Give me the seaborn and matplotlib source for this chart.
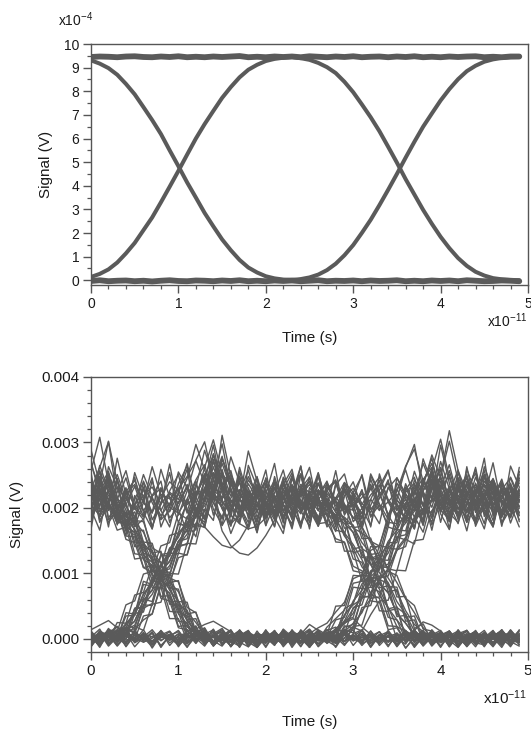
import matplotlib
matplotlib.use("Agg")
import matplotlib.pyplot as plt
import pandas as pd
import seaborn as sns
from matplotlib.ticker import MultipleLocator, FormatStrFormatter

# ---------------- data ----------------
# sample times, in units of 1e-11 s
TIME = [round(i * 0.1, 1) for i in range(50)]

# Top eye diagram, values in units of 1e-4 V
TOP_FALL_RISE = [9.31, 9.17, 8.98, 8.70, 8.31, 7.87, 7.33, 6.78, 6.19, 5.50,
                 4.83, 4.14, 3.50, 2.85, 2.28, 1.73, 1.27, 0.86, 0.54, 0.33,
                 0.17, 0.08, 0.03, 0.01, 0.05, 0.12, 0.24, 0.43, 0.70, 1.06,
                 1.49, 2.01, 2.56, 3.18, 3.83, 4.50, 5.19, 5.86, 6.50, 7.06,
                 7.61, 8.09, 8.51, 8.85, 9.08, 9.25, 9.35, 9.41, 9.44, 9.45]
TOP_RISE_FALL = [0.14, 0.27, 0.46, 0.75, 1.14, 1.58, 2.12, 2.66, 3.30, 3.96,
                 4.63, 5.32, 6.00, 6.61, 7.17, 7.72, 8.18, 8.59, 8.91, 9.12,
                 9.28, 9.37, 9.42, 9.45, 9.40, 9.33, 9.20, 9.02, 8.77, 8.40,
                 7.96, 7.44, 6.90, 6.31, 5.65, 4.98, 4.28, 3.63, 2.98, 2.39,
                 1.84, 1.36, 0.94, 0.61, 0.36, 0.20, 0.09, 0.04, 0.01, 0.00]
TOP_HIGH = [9.45, 9.47, 9.46, 9.44, 9.47, 9.48, 9.45, 9.44, 9.47, 9.45,
            9.48, 9.44, 9.46, 9.44, 9.47, 9.45, 9.47, 9.49, 9.44, 9.46,
            9.44, 9.47, 9.45, 9.47, 9.44, 9.48, 9.46, 9.44, 9.47, 9.45,
            9.48, 9.44, 9.46, 9.47, 9.44, 9.47, 9.45, 9.48, 9.44, 9.46,
            9.44, 9.47, 9.45, 9.47, 9.48, 9.44, 9.46, 9.44, 9.47, 9.47]
TOP_LOW = [-0.03, 0.00, -0.04, -0.02, -0.01, -0.04, -0.02, -0.05, -0.02, 0.00,
           -0.03, -0.04, -0.01, -0.02, -0.04, -0.01, -0.03, 0.00, -0.04, -0.02,
           -0.04, -0.01, -0.03, -0.01, -0.04, -0.02, 0.00, -0.04, -0.02, -0.03,
           -0.01, -0.04, -0.01, -0.03, -0.02, 0.00, -0.04, -0.02, -0.04, -0.01,
           -0.03, -0.01, -0.04, 0.00, -0.02, -0.04, -0.03, -0.01, -0.02, -0.04]

# Bottom eye diagram, noisy traces, values in units of 1e-5 V
TR_A1 = [228,262,301,240,205,233,196,214,188,207, 221,195,236,210,252,231,203,190,218,226,
         204,187,215,232,198,209,224,201,185,219, 230,207,193,221,238,212,199,226,245,216,
         203,229,211,194,222,236,208,197,225,213]
TR_A2 = [205,188,227,213,246,199,182,218,230,201, 192,214,243,266,218,201,176,189,207,223,
         238,212,196,204,227,191,213,229,240,206, 184,199,220,235,211,190,208,224,203,232,
         247,218,201,186,213,228,206,219,194,231]
TR_A3 = [192,214,203,187,221,236,208,195,216,240, 227,205,219,248,281,236,212,198,224,209,
         186,201,228,214,197,222,238,205,213,227, 202,216,231,198,209,226,264,290,241,214,
         206,193,218,233,207,221,245,212,199,216]
TR_B1 = [211,236,219,197,225,242,208,193,221,214, 230,248,272,237,215,204,226,199,213,235,
         217,196,224,208,231,205,219,241,198,183, 162,128,116,84,71,38,24,6,3,-5,
         4,-3,7,1,-6,3,8,-2,5,-4]
TR_B2 = [238,204,226,251,213,198,219,232,206,224, 213,245,297,258,221,209,194,228,215,201,
         233,218,195,211,236,223,204,190,216,201, 186,171,147,118,93,72,43,22,11,4,
         -3,6,-5,2,8,-4,3,-7,5,1]
TR_B3 = [201,219,240,213,187,205,228,214,196,222, 207,231,216,194,253,235,208,219,226,203,
         190,214,235,209,197,221,213,189,181,162, 144,121,93,76,47,29,12,5,-2,5,
         -6,2,9,-3,4,-8,1,6,-4,3]
TR_C1 = [224,213,205,186,171,162,128,117,84,69, 38,23,5,3,-4,5,6,-2,4,-7,
         2,8,-3,5,-6,1,7,4,12,25, 46,63,95,108,139,152,186,197,233,281,
         246,215,198,224,207,236,213,192,219,227]
TR_C2 = [266,231,204,186,172,163,131,104,93,62, 45,18,11,-3,4,-6,2,7,-4,3,
         -2,5,-5,8,1,-3,6,-1,5,11, 24,40,71,92,107,138,155,184,199,212,
         248,302,241,226,205,218,233,209,196,221]
TR_C3 = [203,215,236,192,186,178,146,131,99,85, 57,38,12,8,-3,4,5,-6,2,7,
         -4,3,9,-2,4,-7,1,6,15,27, 58,74,103,119,149,166,194,212,241,268,
         228,203,219,195,232,214,201,227,210,188]
TR_D1 = [241,198,207,189,181,168,136,121,92,76, 47,29,8,5,-3,2,6,-1,4,-6,
         3,-4,7,2,-5,4,-2,6,-7,1, 5,-3,8,2,-4,6,-1,3,-6,4,
         7,-2,1,-5,4,3,-7,5,2,-3]
TR_D2 = [219,248,204,193,191,166,148,118,103,74, 58,27,14,3,-4,7,-2,5,-6,1,
         8,-3,4,-5,2,6,-1,-4,3,7, -2,5,-6,1,4,-3,9,2,-5,3,
         -1,6,-4,2,5,-7,1,4,-2,6]
TR_D3 = [196,239,214,205,189,179,163,132,117,87, 72,41,25,6,4,-2,-5,2,7,-3,
         5,-1,-6,3,8,-2,4,-4,1,6, -3,2,5,-6,4,-1,7,-3,2,5,
         -4,3,-2,6,1,-5,4,-1,3,-6]
TR_E1 = [4,6,2,12,17,45,62,93,108,138, 155,184,213,262,304,251,238,214,197,226,
         209,188,215,232,204,197,221,236,210,193, 218,205,229,247,213,196,220,208,234,217,
         199,225,211,238,204,219,192,228,214,201]
TR_E2 = [-5,3,8,11,22,36,68,84,113,127, 159,175,196,231,254,212,189,176,168,172,
         185,203,219,196,227,241,208,195,213,230, 204,222,198,215,239,211,197,226,205,232,
         218,194,209,236,221,203,215,240,207,199]
TR_E3 = [2,5,-1,6,14,21,52,68,97,112, 143,160,189,226,283,236,246,219,207,232,
         198,214,236,209,191,218,227,203,215,239, 224,201,213,196,230,246,217,204,222,209,
         235,213,190,207,228,216,244,211,198,223]
TR_F1 = [-3,1,7,4,24,38,69,86,115,131, 162,177,205,241,296,228,251,222,209,196,
         214,232,205,190,219,236,211,203,189,176, 163,129,114,85,70,39,24,5,6,-2,
         4,-5,3,8,-3,1,6,-4,2,5]
TR_F2 = [6,-2,3,9,14,27,58,74,104,119, 149,166,192,227,208,186,215,238,221,197,
         205,229,214,188,223,240,207,219,193,186, 172,147,131,101,86,57,38,12,3,-4,
         5,-1,7,-3,2,6,-5,4,-2,3]
TR_F3 = [1,4,-2,8,16,27,59,75,103,118, 149,167,191,203,226,217,212,197,243,221,
         208,194,219,235,206,213,196,189,186,157, 139,110,94,66,48,19,11,-2,4,-6,
         3,7,-3,1,-5,6,2,-4,5,-1]
TR_G1 = [5,-2,7,3,-4,6,1,-3,8,2, -5,4,-1,6,-3,2,7,-4,3,-6,
         5,1,-2,8,-5,3,6,4,11,23, 39,69,86,115,131,161,177,195,226,258,
         305,246,213,197,221,236,204,219,231,208]
TR_G2 = [-3,4,-6,2,9,-1,5,-4,3,7, -2,6,1,-5,4,-3,8,2,-6,3,
         -1,5,-4,7,2,-3,4,6,-2,9, 16,43,61,90,106,135,152,181,194,213,
         249,318,257,224,209,192,217,238,211,226]
TR_G3 = [3,8,-2,5,-5,2,6,-3,4,-1, 7,-4,3,1,-6,5,-2,8,3,-4,
         6,-1,-5,4,2,7,-3,9,12,36, 55,84,99,127,144,176,186,199,237,276,
         219,204,228,213,196,224,241,209,218,202]
TR_H1 = [2,-5,6,-1,4,-4,8,3,-2,5, -6,1,7,-3,4,2,-5,6,-1,3,
         8,-4,2,5,-6,3,-2,7,1,-4, 5,2,-3,6,-5,4,9,-2,3,-6,
         1,5,-4,7,2,-3,6,-1,4,-5]
TR_H2 = [-4,6,2,-3,7,1,-5,4,9,-2, 3,-6,5,1,-4,8,2,-3,6,-1,
         -5,4,7,-2,3,-6,5,1,-4,8, 2,-3,6,-1,5,-4,3,8,-2,6,
         -5,2,4,-3,7,1,-6,5,3,-2]
TR_H3 = [7,1,-4,5,-2,3,6,-5,2,4, -1,7,-3,5,2,-6,4,1,-3,9,
         3,-2,6,-5,1,4,-3,7,2,-4, 6,-1,3,-6,5,2,-3,4,7,-1,
         3,-5,6,2,-4,5,1,-3,8,-2]
TR_N1 = [245,212,178,196,152,147,109,101,62,58, 17,14,-6,9,-11,4,12,-8,3,-13,
         7,-4,10,-9,2,14,-2,18,31,44, 85,88,129,131,178,176,232,199,181,254,
         223,168,241,192,219,276,187,230,204,171]
TR_N2 = [-9,11,-2,25,24,67,71,112,110,158, 162,213,184,247,229,173,198,262,215,181,
         236,207,169,224,251,192,218,177,238,201, 205,161,152,127,108,86,61,40,17,2,
         9,-12,6,-3,13,-7,4,-10,8,1]
TR_N3 = [178,231,256,203,164,219,187,242,196,171, 225,268,209,183,232,276,241,198,167,214,
         243,189,206,229,172,215,254,201,188,226, 179,194,149,142,103,97,62,51,15,12,
         -4,7,-11,3,10,-6,12,-2,-9,5]
TR_N4 = [-8,4,12,-5,9,-12,3,14,-3,7, -10,2,11,-7,5,-1,13,-9,6,-4,
         10,-6,3,12,-11,8,17,24,41,56, 92,98,135,143,182,221,193,168,227,249,
         205,183,236,214,262,197,175,228,246,210]
TR_N5 = [212,257,185,203,166,159,121,113,79,70, 27,25,-4,8,-10,5,13,-6,2,-12,
         9,-3,14,-8,4,-11,6,1,-7,12, -2,8,-13,5,11,-5,3,-9,7,-1,
         10,-6,4,13,-8,2,-12,6,9,-4]
TR_N6 = [10,-6,14,11,52,58,99,103,142,147, 192,183,231,288,246,199,172,224,258,207,
         183,239,196,221,264,188,209,173,235,252, 201,227,186,215,243,178,206,231,193,259,
         220,184,211,247,199,168,226,213,238,192]
TR_N7 = [198,166,233,209,178,186,139,136,96,94, 51,44,8,16,-9,3,11,-5,-12,7,
         2,-8,13,-3,6,-10,9,4,-6,14, 9,48,51,93,96,136,141,187,163,214,
         271,229,186,204,247,215,181,236,198,223]
TR_N8 = [3,-11,8,-4,13,14,29,38,81,86, 124,129,173,171,226,249,203,178,265,232,
         186,211,244,197,175,208,187,191,148,147, 104,101,58,56,14,17,-6,5,-10,11,
         -3,8,-12,4,10,-7,2,13,-5,-1]
TR_N9 = [167,243,198,276,219,185,232,171,208,254, 189,226,273,301,242,208,161,194,237,215,
         258,183,205,168,229,247,196,214,181,238, 203,172,249,221,190,213,262,297,226,184,
         241,205,176,229,253,198,217,185,264,232]
TR_N10 = [233,186,212,245,171,203,228,192,259,216, 178,207,241,185,224,268,230,195,212,173,
          204,237,219,182,251,206,174,229,243,197, 218,185,236,204,171,246,222,199,275,238,
          193,224,258,201,176,213,239,208,187,251]
TR_N11 = [11,-8,3,14,-12,6,-2,9,-10,4, 13,-5,1,-11,8,16,-3,7,-9,12,
          -6,2,10,-13,5,-1,12,-7,3,-10, 8,14,-4,6,-12,9,-2,11,-8,4,
          -11,7,1,13,-6,-9,5,12,-3,8]
TR_N12 = [-7,12,5,-10,9,-3,14,-8,2,11, -12,6,-1,10,-6,4,-11,13,1,-4,
          9,-9,15,3,-7,11,-2,6,-13,7, 2,-5,12,-10,4,8,-14,3,10,-6,
          5,-2,13,-8,6,-12,9,1,-5,11]
TR_N13 = [188,229,171,244,206,171,183,131,134,86, 89,38,41,-2,15,-8,6,-12,10,3,
          -5,12,-9,7,1,-13,8,4,-6,11, -3,13,-7,2,9,-11,5,-1,12,-8,
          6,-4,10,-10,3,8,-6,14,-2,5]
TR_N14 = [6,-9,12,-4,18,9,47,54,97,98, 140,146,190,178,218,165,142,131,128,139,
          158,181,207,236,194,221,248,205,177,229, 213,191,244,206,183,227,258,214,189,232,
          205,179,246,221,198,263,227,192,214,238]
TR_N15 = [257,308,238,199,225,184,213,246,171,203, 229,192,217,252,208,183,241,224,196,169,
          212,238,185,221,203,247,204,198,166,163, 122,117,79,72,33,29,-1,10,-8,6,
          13,-4,2,-11,8,5,-9,12,-2,-6]
TR_N16 = [4,-10,8,2,-6,13,-3,9,-12,5, 11,-7,3,14,-9,6,-1,10,-5,-13,
          7,2,-8,12,4,-11,9,-3,6,8, 19,21,62,64,107,104,152,145,198,193,
          231,266,214,178,203,241,222,187,209,256]
TR_N17 = [289,236,302,214,203,181,179,139,131,93, 87,48,40,7,14,-7,2,12,-10,6,
          -4,9,-12,3,11,-6,1,13,18,8, 48,52,94,92,139,137,189,168,245,213,
          296,238,187,224,206,251,192,218,233,179]
TR_N18 = [-12,5,9,19,3,47,49,91,93,137, 139,186,172,231,219,311,248,197,224,186,
          215,243,206,171,229,198,237,210,176,184, 137,141,91,96,46,49,3,14,-8,6,
          -3,11,-10,4,12,-7,2,9,-4,-11]
TR_N19 = [7,-5,16,1,40,38,88,83,129,131, 178,170,226,213,274,229,186,247,203,162,
          221,268,194,176,233,209,251,187,164,218, 240,199,173,227,256,204,181,215,196,242,
          178,230,209,165,224,257,202,189,236,211]
TR_N20 = [236,194,207,177,179,130,128,89,86,42, 41,2,10,-9,6,14,-4,-11,8,3,
          -7,12,-2,5,-12,9,1,-6,13,-3, 7,-10,4,11,-5,2,-8,14,-1,6,
          -13,8,3,-6,10,-2,5,-9,12,-4]
TR_N21 = [182,214,247,196,231,172,208,263,219,185, 201,236,193,226,281,239,177,214,198,246,
          187,223,258,204,169,231,212,196,211,179, 174,138,129,91,84,48,38,2,13,-10,
          6,12,-5,3,-12,9,-1,7,-8,14]
TR_N22 = [-5,9,-11,3,14,-2,7,-9,12,-6, 4,-13,10,1,-4,8,-10,5,13,-7,
          2,-3,11,-8,6,15,-1,14,2,37, 52,61,104,105,147,147,196,178,243,262,
          211,179,224,247,193,216,269,202,185,228]
TR_N23 = [221,187,246,203,172,181,131,126,88,81, 42,35,3,12,-7,9,-12,4,11,-3,
          6,-9,13,-1,8,-6,2,14,5,46, 54,97,96,143,139,192,177,236,204,189,
          227,251,198,215,176,232,243,207,185,219]
TR_N24 = [9,-4,12,-2,22,16,61,57,103,107, 149,153,201,182,243,279,226,203,178,234,
          211,189,247,223,196,172,228,214,183,204, 169,162,113,119,72,75,27,29,-3,8,
          -11,5,12,-6,2,9,-10,4,-1,13]
TR_N25 = [211,238,196,224,257,203,186,219,241,178, 209,232,198,171,156,143,139,151,174,206,
          228,193,215,249,207,184,226,211,195,238, 219,176,204,233,258,197,213,186,224,201,
          247,192,178,219,236,208,171,226,214,189]
TR_N26 = [14,21,28,17,9,-5,3,-9,6,12, -4,8,15,22,27,19,11,-3,6,-10,
          4,-7,12,2,-5,9,-12,1,16,24, 31,18,7,-4,10,-8,3,13,26,21,
          12,-6,5,-11,8,2,-9,11,-3,6]
TR_N27 = [193,245,211,178,194,148,147,103,104,57, 57,11,20,-7,4,13,-5,9,-12,2,
          10,-3,6,-9,14,1,-7,8,-2,20, 17,65,64,111,109,156,151,214,182,229,
          262,208,187,241,219,196,233,178,204,245]
TR_N28 = [-2,10,-8,5,16,8,52,51,99,97, 143,144,192,173,235,252,196,214,287,241,
          205,182,229,196,213,178,218,171,184,134, 134,88,91,43,42,-1,13,-6,9,-11,
          3,12,-4,7,-9,1,10,-5,14,-2]
TR_M1 = [176,224,251,193,158,214,239,182,205,267, 198,163,221,246,189,232,257,204,171,219,
         243,186,161,228,252,197,176,233,211,158, 224,249,187,205,172,238,215,169,226,254,
         191,167,234,208,183,247,221,176,199,242]
TR_M2 = [243,178,209,232,187,254,216,168,231,194, 222,259,186,207,243,298,229,181,216,248,
         173,206,239,191,224,168,253,205,187,231, 196,228,171,252,209,185,237,203,176,245,
         219,188,226,251,172,204,238,193,215,182]
TR_M3 = [-12,9,3,-7,15,-4,10,-14,6,1, -9,13,-2,8,-11,5,14,-6,2,-13,
         11,-3,7,-10,4,12,-8,1,-5,15, -1,9,-12,6,3,-9,13,-4,8,-7,
         11,-2,-13,5,10,-6,2,14,-10,4]
TR_M4 = [6,-13,11,2,-8,13,-5,1,12,-10, 5,9,-7,14,-3,-11,6,2,11,-8,
         -2,13,-9,4,8,-12,3,10,-6,2, 14,-7,-1,11,-10,5,7,-13,4,9,
         -4,12,-8,1,6,-11,10,-3,7,-9]
TR_M5 = [271,218,207,176,191,141,144,96,101,53, 52,6,18,-6,11,-9,4,13,-3,8,
         -11,6,2,-8,12,-4,9,1,2,28, 33,76,79,121,120,167,165,213,176,243,
         205,228,182,263,199,216,241,187,209,255]
TR_M6 = [-6,12,2,14,-1,39,41,88,87,131, 130,178,156,216,271,227,192,256,208,163,
         237,214,181,249,198,226,172,207,176,184, 131,136,88,91,43,46,2,12,-9,5,
         10,-4,7,-12,3,13,-7,1,9,-5]
TR_M7 = [254,181,203,166,171,122,124,78,79,31, 31,-3,13,-8,4,11,-12,7,2,-6,
         14,-9,5,-2,10,-13,3,8,-5,12, -10,6,1,-7,13,-4,9,-11,2,7,
         -3,12,-8,5,-1,10,-6,3,-12,8]
TR_M8 = [-10,6,-3,11,9,-1,35,38,84,84, 131,128,177,170,236,212,278,239,196,221,
         173,248,205,186,231,262,197,214,171,236, 209,183,252,224,189,167,228,247,203,178,
         235,212,186,259,224,193,171,237,218,246]
TR_M9 = [197,256,224,181,212,247,193,168,228,203, 255,231,187,214,263,222,196,249,207,178,
         226,193,241,212,176,221,176,178,153,148, 111,104,68,62,20,19,-4,9,-11,3,
         8,-6,12,-2,6,-10,4,13,-7,1]
TR_M10 = [9,-6,13,-10,4,8,-2,11,-13,6, 1,-8,12,5,-4,10,-11,3,7,-9,
          13,-1,-6,9,2,-12,8,4,-3,18, 22,63,66,111,114,156,159,211,173,229,
          258,207,232,184,219,251,196,226,177,213]
TR_M11 = [238,202,253,217,181,194,148,146,101,102, 57,56,10,17,-5,8,-11,4,12,-7,
          2,-10,13,-4,6,1,14,6,50,51, 97,96,141,141,189,204,183,221,268,234,
          197,182,226,249,211,176,235,209,188,262]
TR_M12 = [4,-9,14,2,35,36,83,81,128,126, 175,173,221,252,198,174,236,213,189,247,
          206,171,228,254,193,217,182,239,211,198, 197,153,154,109,110,64,65,16,23,-4,
          8,-12,5,11,-6,2,13,-9,4,-1]
TR_M13 = [219,187,263,232,196,174,241,208,183,226, 251,197,168,229,212,274,243,187,205,236,
          192,219,177,246,211,183,238,202,257,191, 224,168,213,242,186,229,201,256,219,174,
          208,233,191,221,259,187,216,244,198,226]
TR_M14 = [3,15,-8,6,-11,9,2,-5,13,-2, 8,-12,4,11,-7,1,-10,14,-4,6,
          -13,9,2,-6,12,-9,5,-1,10,-8, 4,13,-11,7,-3,9,-14,2,11,-5,
          7,-9,14,-2,3,-10,8,-6,12,1]
TR_M15 = [209,265,226,187,205,164,166,122,117,78, 76,29,31,-1,12,-9,5,-4,11,-12,
          7,2,-9,13,-6,4,10,-3,-11,8, 1,-7,12,-4,9,-12,5,3,-8,14,
          -2,7,-10,4,11,-6,2,-13,9,-1]
TR_M16 = [8,-7,3,19,8,46,48,94,92,139, 136,187,166,248,223,259,203,176,231,192,
          246,218,183,209,264,197,172,226,241,189, 213,251,198,176,232,207,184,243,219,166,
          225,198,254,214,181,207,236,172,229,203]
TR_M17 = [186,213,242,174,229,203,251,217,182,196, 237,264,209,186,226,199,174,212,248,221,
          196,231,187,214,252,208,179,227,203,205, 170,172,123,128,80,79,33,35,0,13,
          -5,8,-12,3,11,-7,4,-2,13,-9]
TR_M18 = [-2,11,-9,5,13,-6,2,-12,8,4, -7,14,-3,9,-10,1,6,-13,10,-4,
          3,12,-8,-1,7,22,13,2,29,33, 79,77,124,121,171,166,224,238,203,261,
          196,219,246,181,227,208,172,239,214,193]
TR_M19 = [214,248,182,196,157,156,109,112,65,66, 19,21,-6,8,-10,3,12,-5,9,-13,
          2,7,-9,14,-3,6,-11,10,1,-4, 18,12,37,58,59,105,104,150,152,196,
          212,257,213,178,238,203,226,189,247,218]
TR_M20 = [12,-3,7,-11,5,19,13,53,56,100, 99,146,145,198,181,256,218,241,184,229,
          207,172,236,259,198,215,183,222,208,169, 172,124,126,78,81,34,36,-3,12,-7,
          5,-10,8,13,-4,2,-9,11,-1,6]

BOTTOM_TRACES = [TR_A1, TR_A2, TR_A3, TR_B1, TR_B2, TR_B3, TR_C1, TR_C2, TR_C3,
                 TR_D1, TR_D2, TR_D3, TR_E1, TR_E2, TR_E3, TR_F1, TR_F2, TR_F3,
                 TR_G1, TR_G2, TR_G3, TR_H1, TR_H2, TR_H3,
                 TR_N1, TR_N2, TR_N3, TR_N4, TR_N5, TR_N6, TR_N7, TR_N8, TR_N9,
                 TR_N10, TR_N11, TR_N12, TR_N13, TR_N14, TR_N15, TR_N16, TR_N17,
                 TR_N18, TR_N19, TR_N20, TR_N21, TR_N22, TR_N23, TR_N24, TR_N25,
                 TR_N26, TR_N27, TR_N28,
                 TR_M1, TR_M2, TR_M3, TR_M4, TR_M5, TR_M6, TR_M7, TR_M8, TR_M9,
                 TR_M10, TR_M11, TR_M12, TR_M13, TR_M14, TR_M15, TR_M16, TR_M17,
                 TR_M18, TR_M19, TR_M20]

Y_TOP_TICKS = list(range(0, 11))
Y_BOT_TICKS = [0.000, 0.001, 0.002, 0.003, 0.004]
X_TICKS = [0, 1, 2, 3, 4, 5]

# ---------------- style ----------------
sns.set_style("ticks")
plt.rcParams["font.family"] = ["Liberation Sans", "DejaVu Sans"]
plt.rcParams["mathtext.fontset"] = "custom"
plt.rcParams["mathtext.rm"] = "Liberation Sans"
plt.rcParams["mathtext.it"] = "Liberation Sans"
plt.rcParams["mathtext.bf"] = "Liberation Sans"

LINE = "#5a5a5a"
SPINE = "#555555"
TEXT = "#1a1a1a"

W, H = 531, 732
fig = plt.figure(figsize=(W / 100, H / 100), dpi=100)
ax1 = fig.add_axes([91 / W, 1 - 285 / H, 437 / W, 241 / H])
ax2 = fig.add_axes([91 / W, 1 - 652 / H, 437 / W, 275 / H])

# ---------------- top panel ----------------
top_curves = pd.DataFrame({
    "time": TIME * 2,
    "signal": TOP_FALL_RISE + TOP_RISE_FALL,
    "trace": ["fall"] * len(TIME) + ["rise"] * len(TIME),
})
top_flat = pd.DataFrame({
    "time": TIME * 2,
    "signal": TOP_HIGH + TOP_LOW,
    "trace": ["high"] * len(TIME) + ["low"] * len(TIME),
})
sns.lineplot(data=top_flat, x="time", y="signal", units="trace", estimator=None,
             color=LINE, lw=4.2, ax=ax1, legend=False)
sns.lineplot(data=top_curves, x="time", y="signal", units="trace", estimator=None,
             color=LINE, lw=2.9, ax=ax1, legend=False)

ax1.set_xlim(0, 5)
ax1.set_ylim(-0.2, 10)
ax1.set_yticks(Y_TOP_TICKS)
ax1.set_yticklabels([str(v) for v in Y_TOP_TICKS])
ax1.yaxis.set_minor_locator(MultipleLocator(0.5))

# ---------------- bottom panel ----------------
rows = []
for k, tr in enumerate(BOTTOM_TRACES):
    for t, v in zip(TIME, tr):
        rows.append((t, v * 1e-5, k))
bot = pd.DataFrame(rows, columns=["time", "signal", "trace"])
sns.lineplot(data=bot, x="time", y="signal", units="trace", estimator=None,
             color=LINE, lw=1.0, ax=ax2, legend=False)

ax2.set_xlim(0, 5)
ax2.set_ylim(-0.0002, 0.004)
ax2.set_yticks(Y_BOT_TICKS)
ax2.yaxis.set_major_formatter(FormatStrFormatter("%.3f"))
ax2.yaxis.set_minor_locator(MultipleLocator(0.0002))

# ---------------- common axis styling ----------------
for ax, fs in ((ax1, 10), (ax2, 11)):
    ax.set_xticks(X_TICKS)
    ax.set_xticklabels([str(v) for v in X_TICKS])
    ax.xaxis.set_minor_locator(MultipleLocator(0.2))
    for sp in ax.spines.values():
        sp.set_visible(True)
        sp.set_color(SPINE)
        sp.set_linewidth(1.0)
    ax.tick_params(axis="both", which="major", direction="out", length=5.5,
                   width=1.0, color=SPINE, labelsize=fs, labelcolor=TEXT, pad=3)
    ax.tick_params(axis="both", which="minor", direction="out", length=3,
                   width=0.9, color=SPINE)
    ax.tick_params(top=False, right=False, which="both")
    ax.set_xlabel("Time (s)", fontsize=11, color=TEXT)
    ax.set_ylabel("Signal (V)", fontsize=11, color=TEXT)
    ax.xaxis.label.set_va("center")
    ax.yaxis.label.set_va("center")

ax1.xaxis.set_label_coords(0.5, (285 - 338) / 241)
ax1.yaxis.set_label_coords((46 - 91) / 437, 0.5)
ax2.xaxis.set_label_coords(0.5, (652 - 722) / 275)
ax2.yaxis.set_label_coords((17 - 91) / 437, 0.5)

ax1.text((58 - 91) / 437, (285 - 20) / 241, r"x10$^{-4}$", transform=ax1.transAxes,
         ha="left", va="center", fontsize=10, color=TEXT)
ax1.text((527 - 91) / 437, (285 - 321) / 241, r"x10$^{-11}$", transform=ax1.transAxes,
         ha="right", va="center", fontsize=10, color=TEXT)
ax2.text((527 - 91) / 437, (652 - 698) / 275, r"x10$^{-11}$", transform=ax2.transAxes,
         ha="right", va="center", fontsize=11, color=TEXT)

fig.savefig("out.png", dpi=100)
